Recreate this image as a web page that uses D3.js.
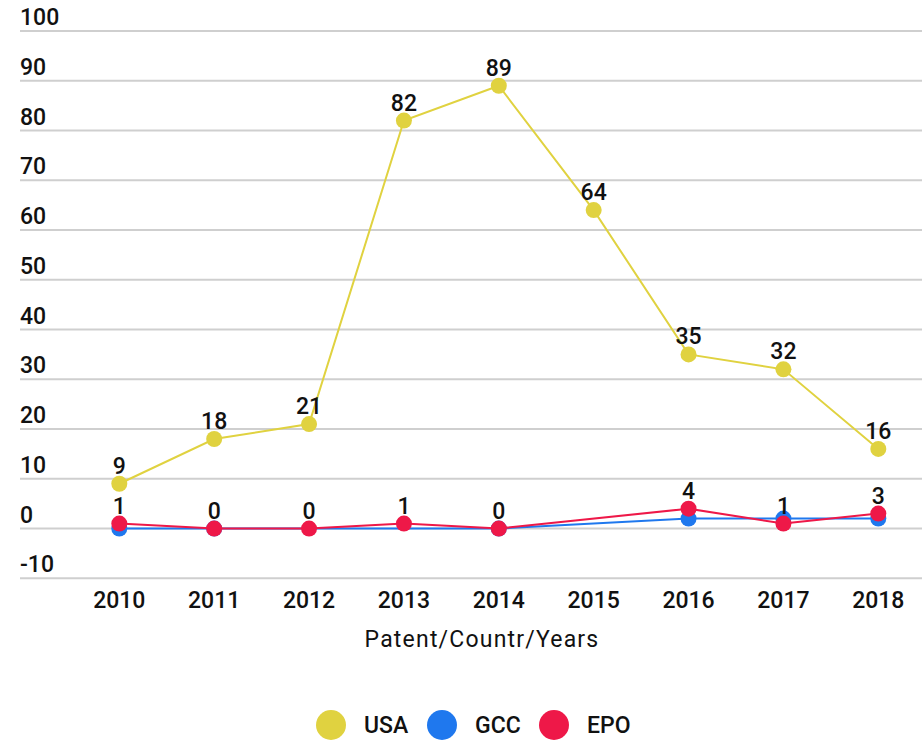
<!DOCTYPE html>
<html>
<head>
<meta charset="utf-8">
<script src="https://cdn.jsdelivr.net/npm/d3@7"></script>
<style>
  body { margin: 0; background: #fff; }
  text { font-family: Roboto, "Noto Sans", sans-serif; fill: #111; }
</style>
</head>
<body>
<div id="main"></div>
<script>
// data
var years = ["2010", "2011", "2012", "2013", "2014", "2015", "2016", "2017", "2018"];
var usa = [9, 18, 21, 82, 89, 64, 35, 32, 16];
var gcc = [0, 0, null, null, 0, null, 2, 2, 2];
var epo = [1, 0, 0, 1, 0, null, 4, 1, 3];
var yTicks = [-10, 0, 10, 20, 30, 40, 50, 60, 70, 80, 90, 100];
var seriesNames = ["USA", "GCC", "EPO"];
var seriesColors = ["#e0d240", "#1f78ee", "#ee1848"];

var w = 922, h = 740;

var svg = d3.select("#main")
  .append("svg")
  .attr("width", w)
  .attr("height", h);

var x = d3.scalePoint()
  .domain(years)
  .range([119.3, 878.3]);

var y = d3.scaleLinear()
  .domain([-10, 100])
  .range([578.3, 31]);

// gridlines + tick labels
var grid = svg.append("g");
grid.selectAll("line")
  .data(yTicks)
  .enter()
  .append("line")
  .attr("x1", 20)
  .attr("x2", w)
  .attr("y1", function(d) { return y(d); })
  .attr("y2", function(d) { return y(d); })
  .attr("stroke", "#cfcfcf")
  .attr("stroke-width", 2);

grid.selectAll("text")
  .data(yTicks)
  .enter()
  .append("text")
  .attr("x", 20)
  .attr("y", function(d) { return y(d) - 6; })
  .style("font-size", "23px")
  .style("font-weight", 500)
  .text(function(d) { return d; });

// x labels
svg.append("g")
  .selectAll("text")
  .data(years)
  .enter()
  .append("text")
  .attr("x", function(d) { return x(d); })
  .attr("y", 608)
  .attr("text-anchor", "middle")
  .style("font-size", "23px")
  .style("font-weight", 500)
  .text(function(d) { return d; });

svg.append("text")
  .attr("x", 482)
  .attr("y", 647)
  .attr("text-anchor", "middle")
  .style("font-size", "23px")
  .style("letter-spacing", "1.2px")
  .text("Patent/Countr/Years");

var series = [
  { name: "USA", values: usa, color: seriesColors[0], labels: true },
  { name: "GCC", values: gcc, color: seriesColors[1], labels: false },
  { name: "EPO", values: epo, color: seriesColors[2], labels: true }
];

var line = d3.line()
  .x(function(d) { return x(d.year); })
  .y(function(d) { return y(d.v); });

series.forEach(function(s) {
  var pts = years.map(function(yr, i) { return { year: yr, v: s.values[i] }; })
    .filter(function(d) { return d.v != null; });
  var g = svg.append("g");
  g.append("path")
    .datum(pts)
    .attr("d", line)
    .attr("fill", "none")
    .attr("stroke", s.color)
    .attr("stroke-width", 2);
  g.selectAll("circle")
    .data(pts)
    .enter()
    .append("circle")
    .attr("cx", function(d) { return x(d.year); })
    .attr("cy", function(d) { return y(d.v); })
    .attr("r", 8)
    .attr("fill", s.color);
  s.pts = pts;
});

// value labels drawn last so they sit on top
series.forEach(function(s) {
  if (!s.labels) return;
  svg.append("g")
    .selectAll("text")
    .data(s.pts)
    .enter()
    .append("text")
    .attr("x", function(d) { return x(d.year); })
    .attr("y", function(d) { return y(d.v) - 10; })
    .attr("text-anchor", "middle")
    .style("font-size", "23px")
    .style("font-weight", 500)
    .text(function(d) { return d.v; });
});

// legend
var legX = [331, 442, 554];
var legend = svg.append("g")
  .selectAll("g")
  .data(seriesNames)
  .enter()
  .append("g")
  .attr("transform", function(d, i) { return "translate(" + legX[i] + ",725)"; });
legend.append("circle")
  .attr("r", 15)
  .attr("fill", function(d, i) { return seriesColors[i]; });
legend.append("text")
  .attr("x", 33)
  .attr("y", 8)
  .style("font-size", "23px")
  .style("font-weight", 500)
  .text(function(d) { return d; });
</script>
</body>
</html>
